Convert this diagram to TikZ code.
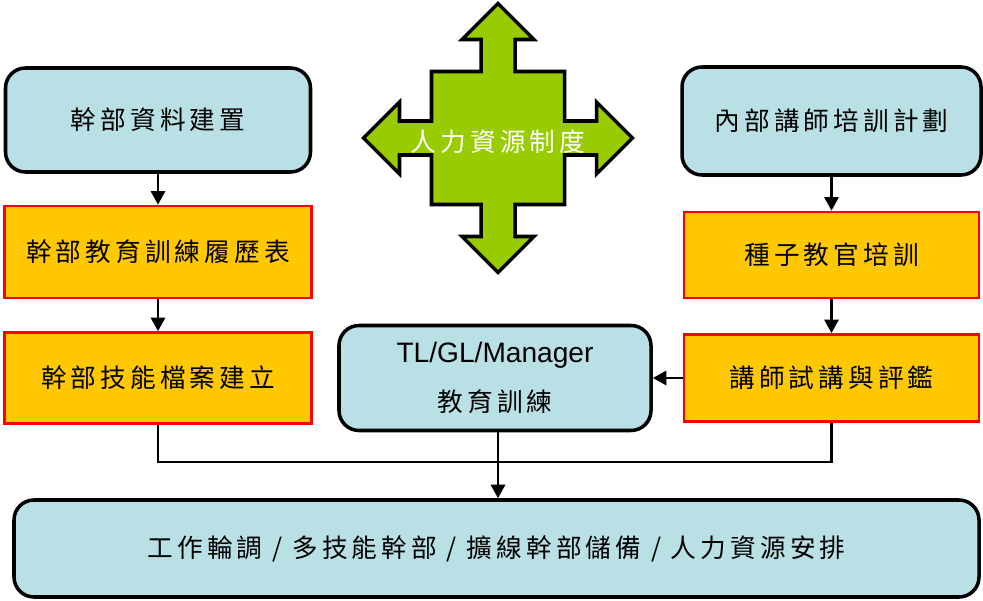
\documentclass[tikz,border=0pt]{standalone}
\usepackage{fontspec}
\setmainfont{Liberation Sans}
\newfontfamily\cjk[LetterSpace=16]{Noto Sans CJK TC}
\usetikzlibrary{shapes.geometric, arrows.meta, positioning}
\definecolor{boxcyan}{RGB}{185,224,228}
\definecolor{boxorange}{RGB}{255,200,0}
\definecolor{crossgreen}{RGB}{153,204,0}
\tikzstyle{plan} = [rectangle, rounded corners=0.4cm, text centered, draw=black, line width=2pt, fill=boxcyan, font=\cjk\fontsize{14.6}{16}\selectfont]
\tikzstyle{task} = [rectangle, text centered, draw=red, line width=1.5pt, fill=boxorange, font=\cjk\fontsize{14.6}{16}\selectfont]
\tikzstyle{link} = [line width=1.6pt]
\tikzstyle{arrow} = [line width=1.6pt, -{Triangle[length=0.27cm, width=0.28cm]}]

\begin{document}
\begin{tikzpicture}
\useasboundingbox (0,0) rectangle (19.66,12);

% left column
\node (staffdata) [plan, minimum width=6.1cm, minimum height=2.08cm] at (3.16,9.6) {幹部資料建置};
\node (staffrecord) [task, minimum width=6.14cm, minimum height=1.84cm] at (3.16,6.96) {幹部教育訓練履歷表};
\node (staffskill) [task, minimum width=6.14cm, minimum height=1.82cm] at (3.16,4.44) {幹部技能檔案建立};

% right column
\node (lecturerplan) [plan, minimum width=5.98cm, minimum height=2.16cm] at (16.63,9.58) {內部講師培訓計劃};
\node (seedtrain) [task, minimum width=5.9cm, minimum height=1.72cm] at (16.63,6.9) {種子教官培訓};
\node (trialtalk) [task, minimum width=5.9cm, minimum height=1.74cm] at (16.63,4.44) {講師試講與評鑑};

% middle
\node (mgrtrain) [plan, minimum width=6.24cm, minimum height=2.1cm, align=center, font=\fontsize{16}{28}\selectfont] at (9.9,4.44) {TL/GL/Manager\\{\cjk\fontsize{14.6}{16}\selectfont 教育訓練}};
\node (outcome) [plan, minimum width=19.3cm, minimum height=1.94cm] at (9.93,1.03) {工作輪調 / 多技能幹部 / 擴線幹部儲備 / 人力資源安排};

% cross arrow
\begin{scope}[shift={(9.96,9.24)}]
\draw [draw=black, line width=2pt, fill=crossgreen, line join=miter]
  (0,2.69) -- (0.72,1.97) -- (0.34,1.97) -- (0.34,1.33) -- (1.33,1.33) -- (1.33,0.34)
  -- (1.97,0.34) -- (1.97,0.72) -- (2.69,0) -- (1.97,-0.72) -- (1.97,-0.34) -- (1.33,-0.34)
  -- (1.33,-1.33) -- (0.34,-1.33) -- (0.34,-1.97) -- (0.72,-1.97) -- (0,-2.69) -- (-0.72,-1.97)
  -- (-0.34,-1.97) -- (-0.34,-1.33) -- (-1.33,-1.33) -- (-1.33,-0.34) -- (-1.97,-0.34) -- (-1.97,-0.72)
  -- (-2.69,0) -- (-1.97,0.72) -- (-1.97,0.34) -- (-1.33,0.34) -- (-1.33,1.33) -- (-0.34,1.33)
  -- (-0.34,1.97) -- (-0.72,1.97) -- cycle;
\node (hrpolicy) [text=white, font=\cjk\fontsize{14.6}{16}\selectfont] at (0,-0.08) {人力資源制度};
\end{scope}

\coordinate (merge) at (9.96,2.76);

\draw [arrow] (staffdata) -- (staffrecord);
\draw [arrow] (staffrecord) -- (staffskill);
\draw [arrow] (lecturerplan) -- (seedtrain);
\draw [arrow] (seedtrain) -- (trialtalk);
\draw [arrow] (trialtalk) -- (mgrtrain);
\draw [link] (staffskill) |- (merge) -| (trialtalk);
\draw [arrow] (merge |- mgrtrain.south) -- (merge |- outcome.north);

\end{tikzpicture}
\end{document}
